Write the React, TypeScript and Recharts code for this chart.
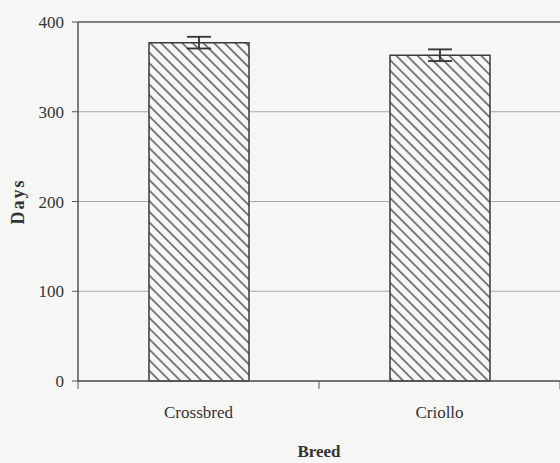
import { Bar, BarChart, CartesianGrid, ErrorBar, ReferenceLine, XAxis, YAxis } from 'recharts';

const breeds = ['Crossbred', 'Criollo'];
const days = [377, 363];
const errors = [6.5, 6.5];
const yTicks = [0, 100, 200, 300, 400];

const data = breeds.map((breed, i) => ({ breed, days: days[i], err: errors[i] }));

const font = '"Liberation Serif", "Times New Roman", serif';

// category label in the middle, small tick marks on the band edges
function BreedTick(props: any) {
    const { x, y, payload, index, visibleTicksCount } = props;
    const half = payload.offset || 0;
    const last = index === visibleTicksCount - 1;
    return (
        <g>
            <line x1={x - half} y1={y} x2={x - half} y2={y + 8} stroke="#555" />
            {last && <line x1={x + half} y1={y} x2={x + half} y2={y + 8} stroke="#555" />}
            <text
                x={x}
                y={y + 37}
                textAnchor="middle"
                fill="#333"
                fontSize={17}
                fontFamily={font}
            >
                {payload.value}
            </text>
        </g>
    );
}

export default function App() {
    return (
        <div style={{ position: 'absolute', left: 0, top: 0, width: 560, height: 463, background: '#f6f6f4' }}>
            <BarChart
                width={560}
                height={463}
                data={data}
                margin={{ top: 22, right: 0, left: 0, bottom: 6 }}
                barSize={100}
            >
                <defs>
                    <pattern
                        id="hatch"
                        patternUnits="userSpaceOnUse"
                        width={7.5}
                        height={7.5}
                        patternTransform="rotate(-45)"
                    >
                        <rect width={7.5} height={7.5} fill="#f6f6f4" />
                        <line x1={0} y1={0} x2={0} y2={7.5} stroke="#6a6a6a" strokeWidth={3.4} />
                    </pattern>
                </defs>
                <CartesianGrid vertical={false} stroke="#a8a8a8" strokeWidth={1} />
                <XAxis
                    dataKey="breed"
                    height={76}
                    axisLine={{ stroke: '#555', strokeWidth: 1.5 }}
                    tickLine={false}
                    tickSize={0}
                    tickMargin={0}
                    tick={<BreedTick />}
                    label={{
                        value: 'Breed',
                        position: 'insideBottom',
                        offset: 0,
                        fill: '#333',
                        fontSize: 17,
                        fontWeight: 'bold',
                        fontFamily: font,
                    }}
                />
                <YAxis
                    domain={[0, 400]}
                    ticks={yTicks}
                    width={78}
                    axisLine={{ stroke: '#555', strokeWidth: 1.5 }}
                    tickSize={6}
                    tickMargin={8}
                    tickLine={{ stroke: '#555' }}
                    tick={{ fill: '#333', fontSize: 17, fontFamily: font }}
                    label={{
                        value: 'Days',
                        angle: -90,
                        position: 'insideLeft',
                        offset: 18,
                        fill: '#333',
                        fontSize: 18,
                        fontWeight: 'bold',
                        fontFamily: font,
                        style: { letterSpacing: 2, textAnchor: 'middle' },
                    }}
                />
                <ReferenceLine y={400} stroke="#666" strokeWidth={1.5} />
                <Bar
                    dataKey="days"
                    fill="url(#hatch)"
                    stroke="#3a3a3a"
                    strokeWidth={1.5}
                    isAnimationActive={false}
                >
                    <ErrorBar dataKey="err" width={12} stroke="#333" strokeWidth={1.8} />
                </Bar>
            </BarChart>
        </div>
    );
}
